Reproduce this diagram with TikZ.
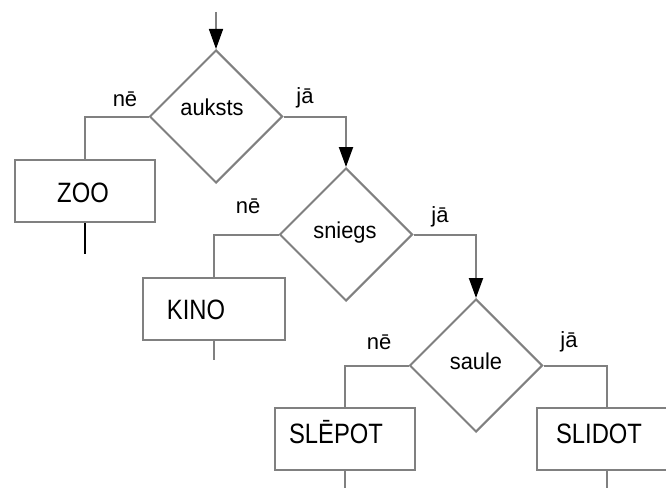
\documentclass[tikz,border=0pt]{standalone}
\usepackage{fontspec}
\setmainfont{Liberation Sans}
\newfontfamily\boxfont[FakeStretch=0.85]{Liberation Sans}
\newfontfamily\diafont[FakeStretch=0.95]{Liberation Sans}
\usetikzlibrary{shapes.geometric,arrows.meta}
\definecolor{lc}{RGB}{128,128,128}
\tikzset{
  dia/.style={shape=diamond,draw=lc,line width=2pt,minimum width=133pt,minimum height=133pt,inner sep=0pt},
  box/.style={shape=rectangle,draw=lc,line width=2pt,minimum width=140pt,minimum height=62pt,inner sep=0pt},
  con/.style={draw=lc,line width=2pt},
  arr/.style={con,-{Triangle[color=black,length=20pt,width=14pt]}},
  btxt/.style={anchor=base,inner sep=0pt,font=\boxfont\fontsize{28}{30}\selectfont},
  dtxt/.style={anchor=base,inner sep=0pt,font=\diafont\fontsize{23}{26}\selectfont},
  ltxt/.style={anchor=base,inner sep=0pt,font=\fontsize{22}{24}\selectfont},
}
\begin{document}
\begin{tikzpicture}[x=1pt,y=-1pt]
\useasboundingbox (0,0) rectangle (666,487);
\clip (0,0) rectangle (666,487);
% diamonds
\node[dia] (d1) at (216,116.5) {};
\node[dia] (d2) at (346,234.5) {};
\node[dia] (d3) at (476,365.5) {};
% boxes
\node[box] (zoo) at (85,191) {};
\node[box,minimum width=142pt] (kino) at (214,309) {};
\node[box] (slepot) at (345,439) {};
\node[box] (slidot) at (607,439) {};
% texts
\node[dtxt] (t1) at (212,115) {auksts};
\node[dtxt] (t2) at (345,238) {sniegs};
\node[dtxt] (t3) at (476,369) {saule};
\node[btxt] (tz) at (83,202) {ZOO};
\node[btxt] (tk) at (196,319) {KINO};
\node[btxt] (ts) at (336,443) {SLĒPOT};
\node[btxt] (tl) at (599,443) {SLIDOT};
\node[ltxt] (n1) at (125,106) {nē};
\node[ltxt] (j1) at (305,103) {jā};
\node[ltxt] (n2) at (248,213) {nē};
\node[ltxt] (j2) at (440,222) {jā};
\node[ltxt] (n3) at (379,349) {nē};
\node[ltxt] (j3) at (569,347) {jā};
% free ends
\coordinate (top) at (216,12);
\coordinate (ze) at (85,254);
\coordinate (ke) at (214,360);
\coordinate (se) at (345,492);
\coordinate (le) at (607,492);
% connectors
\draw[arr,line width=1.5pt] (top) -- (d1.north);
\draw[con] (d1.west) -| (zoo.north);
\draw[arr] (d1.east) -| (d2.north);
\draw[con,draw=black,line width=2.5pt] (zoo.south) -- (ze);
\draw[con] (d2.west) -| (kino.north);
\draw[con] (kino.south) -- (ke);
\draw[arr] (d2.east) -| (d3.north);
\draw[con] (d3.west) -| (slepot.north);
\draw[con] (d3.east) -| (slidot.north);
\draw[con] (slepot.south) -- (se);
\draw[con] (slidot.south) -- (le);
\end{tikzpicture}
\end{document}
